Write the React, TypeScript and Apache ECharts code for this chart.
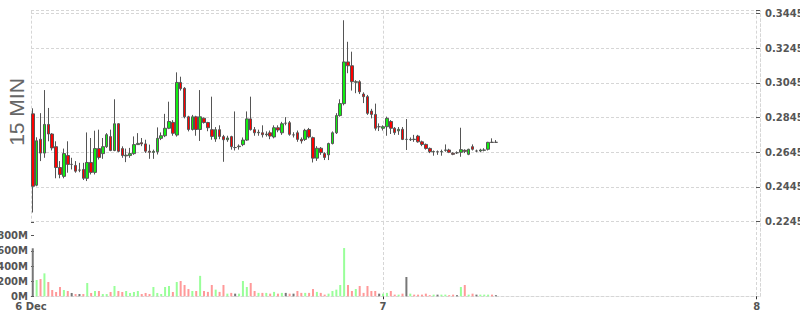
import React, { useEffect, useRef } from 'react';
import * as echarts from 'echarts';

// 15-minute slots counted from 6 Dec 00:00; first candle is 6 Dec 01:30
const periodLabel = '15 MIN';
const firstSlot = 6;
const dayBoundarySlots = [96, 192];
const dayLabels = ['6 Dec', '7', '8'];
const priceTickStart = 0.2245;
const priceTickStep = 0.02;
const volumeTickStep = 200;

// [open, close, low, high]
const candles: [number, number, number, number][] = [
  [0.2866, 0.2449, 0.2298, 0.2898], [0.2455, 0.2711, 0.2449, 0.2731], [0.2720, 0.2640, 0.2594, 0.2870],
  [0.2640, 0.2805, 0.2613, 0.3003], [0.2805, 0.2750, 0.2708, 0.2900], [0.2750, 0.2670, 0.2655, 0.2755],
  [0.2677, 0.2557, 0.2495, 0.2708], [0.2557, 0.2517, 0.2495, 0.2594], [0.2506, 0.2637, 0.2495, 0.2666],
  [0.2626, 0.2575, 0.2527, 0.2708], [0.2575, 0.2575, 0.2546, 0.2613], [0.2569, 0.2536, 0.2527, 0.2594],
  [0.2542, 0.2542, 0.2530, 0.2584], [0.2546, 0.2495, 0.2485, 0.2584], [0.2495, 0.2586, 0.2479, 0.2759],
  [0.2586, 0.2529, 0.2517, 0.2727], [0.2529, 0.2666, 0.2517, 0.2769], [0.2666, 0.2615, 0.2603, 0.2775],
  [0.2637, 0.2677, 0.2607, 0.2727], [0.2677, 0.2746, 0.2670, 0.2755], [0.2735, 0.2655, 0.2651, 0.2775],
  [0.2655, 0.2809, 0.2651, 0.2950], [0.2809, 0.2650, 0.2645, 0.2812], [0.2666, 0.2626, 0.2613, 0.2679],
  [0.2624, 0.2628, 0.2588, 0.2666], [0.2626, 0.2637, 0.2613, 0.2670], [0.2637, 0.2689, 0.2630, 0.2736],
  [0.2689, 0.2696, 0.2689, 0.2755], [0.2700, 0.2693, 0.2680, 0.2727], [0.2693, 0.2651, 0.2641, 0.2717],
  [0.2651, 0.2645, 0.2607, 0.2689], [0.2644, 0.2650, 0.2607, 0.2660], [0.2648, 0.2725, 0.2632, 0.2788],
  [0.2725, 0.2740, 0.2715, 0.2759], [0.2740, 0.2783, 0.2732, 0.2866], [0.2783, 0.2822, 0.2778, 0.2936],
  [0.2817, 0.2754, 0.2740, 0.2830], [0.2744, 0.3047, 0.2735, 0.3105], [0.3047, 0.3011, 0.3000, 0.3080],
  [0.3013, 0.2849, 0.2840, 0.3020], [0.2849, 0.2776, 0.2765, 0.2855], [0.2776, 0.2849, 0.2770, 0.2860],
  [0.2849, 0.2776, 0.2740, 0.2855], [0.2776, 0.2849, 0.2710, 0.3003], [0.2841, 0.2816, 0.2810, 0.2845],
  [0.2816, 0.2786, 0.2766, 0.2820], [0.2775, 0.2736, 0.2717, 0.2965], [0.2721, 0.2775, 0.2705, 0.2790],
  [0.2775, 0.2736, 0.2720, 0.2800], [0.2735, 0.2717, 0.2590, 0.2745], [0.2717, 0.2727, 0.2705, 0.2740],
  [0.2735, 0.2677, 0.2660, 0.2740], [0.2672, 0.2672, 0.2655, 0.2880], [0.2677, 0.2680, 0.2660, 0.2690],
  [0.2689, 0.2715, 0.2680, 0.2730], [0.2715, 0.2837, 0.2710, 0.2880], [0.2837, 0.2775, 0.2770, 0.2965],
  [0.2775, 0.2757, 0.2740, 0.2790], [0.2757, 0.2760, 0.2740, 0.2775], [0.2757, 0.2746, 0.2730, 0.2800],
  [0.2746, 0.2750, 0.2735, 0.2765], [0.2757, 0.2738, 0.2720, 0.2770], [0.2733, 0.2786, 0.2725, 0.2800],
  [0.2786, 0.2773, 0.2760, 0.2800], [0.2757, 0.2809, 0.2745, 0.2820], [0.2812, 0.2812, 0.2800, 0.2847],
  [0.2815, 0.2748, 0.2740, 0.2825], [0.2745, 0.2745, 0.2730, 0.2760], [0.2757, 0.2719, 0.2705, 0.2770],
  [0.2719, 0.2710, 0.2695, 0.2730], [0.2719, 0.2771, 0.2710, 0.2780], [0.2776, 0.2733, 0.2725, 0.2785],
  [0.2729, 0.2611, 0.2586, 0.2735], [0.2611, 0.2668, 0.2595, 0.2680], [0.2668, 0.2643, 0.2630, 0.2675],
  [0.2637, 0.2615, 0.2600, 0.2645], [0.2630, 0.2695, 0.2600, 0.2700], [0.2695, 0.2757, 0.2690, 0.2765],
  [0.2757, 0.2856, 0.2750, 0.2870], [0.2856, 0.2925, 0.2850, 0.2950], [0.2925, 0.3165, 0.2915, 0.3405],
  [0.3165, 0.3143, 0.3100, 0.3281], [0.3143, 0.3051, 0.3000, 0.3224], [0.3048, 0.3051, 0.2985, 0.3060],
  [0.3051, 0.2993, 0.2980, 0.3060], [0.2980, 0.2965, 0.2928, 0.2990], [0.2965, 0.2869, 0.2860, 0.2975],
  [0.2882, 0.2863, 0.2840, 0.2895], [0.2863, 0.2783, 0.2770, 0.2925], [0.2792, 0.2792, 0.2767, 0.2811],
  [0.2783, 0.2792, 0.2770, 0.2800], [0.2792, 0.2840, 0.2740, 0.2850], [0.2822, 0.2783, 0.2750, 0.2830],
  [0.2783, 0.2758, 0.2745, 0.2790], [0.2768, 0.2777, 0.2745, 0.2790], [0.2777, 0.2719, 0.2715, 0.2790],
  [0.2719, 0.2719, 0.2658, 0.2836], [0.2717, 0.2719, 0.2710, 0.2730], [0.2720, 0.2718, 0.2705, 0.2745],
  [0.2738, 0.2705, 0.2700, 0.2745], [0.2705, 0.2690, 0.2680, 0.2712], [0.2690, 0.2667, 0.2660, 0.2695],
  [0.2667, 0.2648, 0.2640, 0.2672], [0.2647, 0.2649, 0.2625, 0.2655], [0.2648, 0.2648, 0.2630, 0.2655],
  [0.2647, 0.2649, 0.2625, 0.2660], [0.2656, 0.2658, 0.2648, 0.2690], [0.2658, 0.2645, 0.2640, 0.2665],
  [0.2639, 0.2633, 0.2628, 0.2645], [0.2642, 0.2642, 0.2635, 0.2650], [0.2645, 0.2660, 0.2619, 0.2786],
  [0.2656, 0.2650, 0.2640, 0.2662], [0.2633, 0.2662, 0.2628, 0.2665], [0.2677, 0.2662, 0.2655, 0.2690],
  [0.2652, 0.2652, 0.2645, 0.2660], [0.2652, 0.2658, 0.2645, 0.2665], [0.2656, 0.2658, 0.2650, 0.2668],
  [0.2662, 0.2702, 0.2655, 0.2705], [0.2703, 0.2701, 0.2698, 0.2725], [0.2702, 0.2702, 0.2698, 0.2715],
];

// volume in millions
const volumes: number[] = [
  634, 215, 228, 303, 189, 83, 57, 123, 83, 70,
  44, 30, 30, 30, 176, 44, 70, 70, 30, 30,
  57, 136, 70, 57, 70, 44, 57, 70, 30, 44,
  30, 123, 44, 30, 123, 136, 57, 189, 202, 149,
  96, 70, 70, 270, 70, 58, 149, 88, 58, 149,
  35, 45, 35, 35, 202, 123, 176, 70, 45, 45,
  45, 35, 58, 35, 45, 45, 35, 35, 70, 45,
  45, 45, 96, 58, 45, 22, 35, 70, 88, 149,
  637, 149, 70, 96, 136, 45, 136, 70, 70, 35,
  35, 45, 70, 22, 22, 35, 255, 35, 22, 22,
  22, 35, 15, 22, 22, 22, 22, 15, 22, 15,
  123, 149, 22, 35, 22, 22, 22, 22, 22, 15,
];

const X_MIN = 5.55;
const X_MAX = 192.85;
const PRICE_MAX = 0.346;
const VOL_MAX = 981;
const GRID_COLOR = '#d6d6d6';
const DASH = [3, 2];
const FONT = 'DejaVu Sans';

export default function App() {
  const ref = useRef<HTMLDivElement>(null);
  useEffect(() => {
    if (!ref.current) return;
    const chart = echarts.init(ref.current, undefined, { renderer: 'svg' });
    const candleData = candles.map((c, i) => [firstSlot + i, c[0], c[1], c[2], c[3]]);
    const volData = volumes.map((v, i) => {
      const [o, c] = candles[i];
      const color = i === 0 || o === c ? '#777777' : c > o ? '#99ff99' : '#ff9999';
      return { value: [firstSlot + i, v], itemStyle: { color } };
    });
    const labelStyle = { fontSize: 10, fontWeight: 'bold' as const, color: '#555', fontFamily: FONT };
    chart.setOption({
      animation: false,
      backgroundColor: '#ffffff',
      grid: [
        { left: 31, right: 40, top: 10.7, height: 211, outerBoundsMode: 'none', containLabel: false },
        { left: 31, right: 40, top: 222, height: 74.3, outerBoundsMode: 'none', containLabel: false },
      ],
      xAxis: [
        {
          type: 'value', gridIndex: 0, min: X_MIN, max: X_MAX,
          axisLine: { show: false },
          axisTick: { show: false, customValues: [X_MIN, ...dayBoundarySlots] },
          axisLabel: { show: false },
          splitLine: { show: true, lineStyle: { color: GRID_COLOR, type: DASH } },
        },
        {
          type: 'value', gridIndex: 1, min: X_MIN, max: X_MAX,
          axisLine: { show: true, lineStyle: { color: GRID_COLOR, type: DASH } },
          axisTick: { show: true, customValues: dayBoundarySlots, length: 3, lineStyle: { color: '#333' } },
          axisLabel: {
            ...labelStyle,
            margin: 5,
            lineHeight: 10,
            customValues: [X_MIN, ...dayBoundarySlots],
            formatter: (v: number) => {
              if (v < dayBoundarySlots[0]) return dayLabels[0];
              const k = dayBoundarySlots.indexOf(v);
              return k >= 0 ? dayLabels[k + 1] : '';
            },
          },
          splitLine: { show: true, lineStyle: { color: GRID_COLOR, type: DASH } },
        },
      ],
      yAxis: [
        {
          type: 'value', gridIndex: 0, position: 'right',
          min: priceTickStart, max: PRICE_MAX, interval: priceTickStep,
          axisLine: { show: true, lineStyle: { color: GRID_COLOR, type: DASH } },
          axisTick: { show: true, inside: true, length: 4, lineStyle: { color: '#555' } },
          axisLabel: {
            ...labelStyle,
            margin: 5,
            formatter: (v: number) => {
              const k = (v - priceTickStart) / priceTickStep;
              return Math.abs(k - Math.round(k)) < 1e-6 ? v.toFixed(4) : '';
            },
          },
          splitLine: { show: true, lineStyle: { color: GRID_COLOR, type: DASH } },
        },
        {
          type: 'value', gridIndex: 1, position: 'left',
          min: 0, max: VOL_MAX, interval: volumeTickStep,
          axisLine: { show: false },
          axisTick: { show: true, inside: true, length: 3, lineStyle: { color: '#555' } },
          axisLabel: {
            ...labelStyle,
            margin: 3,
            lineHeight: 8,
            formatter: (v: number) => (v % volumeTickStep === 0 ? `${v}M` : ''),
          },
          splitLine: { show: false },
        },
        {
          type: 'value', gridIndex: 1, position: 'right', min: 0, max: 1,
          axisLine: { show: true, lineStyle: { color: GRID_COLOR, type: DASH } },
          axisTick: { show: false }, axisLabel: { show: false }, splitLine: { show: false },
        },
      ],
      series: [
        {
          type: 'candlestick', xAxisIndex: 0, yAxisIndex: 0,
          encode: { x: 0, y: [1, 2, 3, 4] },
          barWidth: 3,
          itemStyle: {
            color: '#11ee11', color0: '#ff0000',
            borderColor: '#555', borderColor0: '#555', borderColorDoji: '#555', borderWidth: 1,
          },
          data: candleData,
        },
        {
          type: 'bar', xAxisIndex: 1, yAxisIndex: 1,
          barWidth: 2,
          data: volData,
        },
      ],
      graphic: [
        {
          type: 'text', x: 16, y: 112, rotation: Math.PI / 2,
          style: {
            text: periodLabel, fontSize: 21, fill: '#666', fontFamily: 'Liberation Sans',
            align: 'center', verticalAlign: 'middle',
          },
        },
      ],
    });
    return () => chart.dispose();
  }, []);
  return <div ref={ref} style={{ position: 'fixed', left: 0, top: 0, width: 800, height: 315, background: '#fff' }} />;
}
